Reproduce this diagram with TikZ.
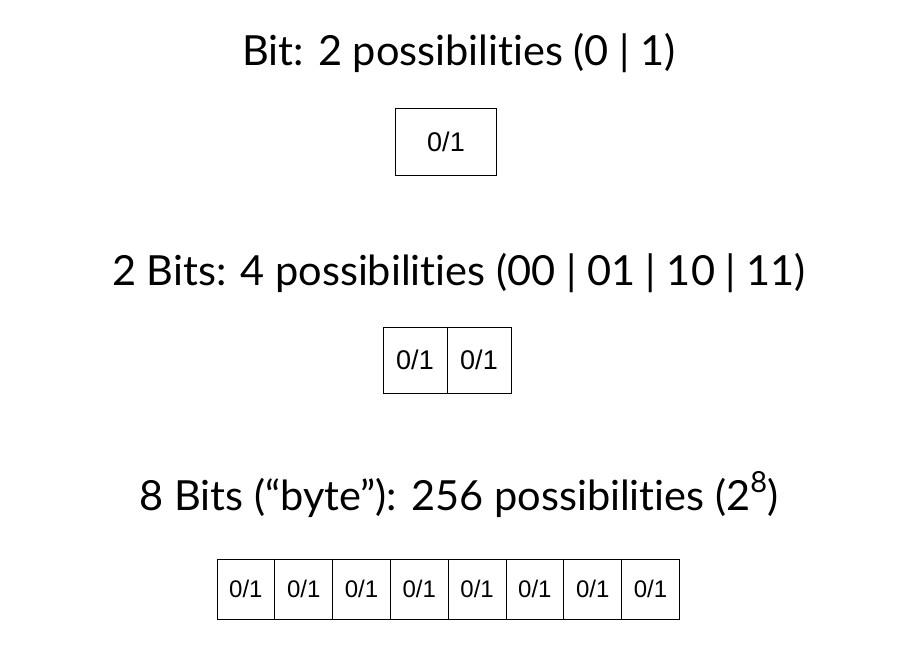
\documentclass[tikz,border=0pt]{standalone}
\usepackage{fontspec}
\setmainfont[Ligatures={NoCommon,NoRare,NoDiscretionary}]{Lato}
\newfontfamily\cellfont{Liberation Sans}
\begin{document}
\begin{tikzpicture}[x=1pt,y=-1pt,
  title/.style={anchor=base,inner sep=0pt,font=\fontsize{41.5}{48}\selectfont},
  cellA/.style={draw,line width=0.8pt,minimum width=101pt,minimum height=67pt,inner sep=0pt,font=\cellfont\fontsize{27}{30}\selectfont},
  cellB/.style={draw,line width=0.8pt,minimum width=64pt,minimum height=66pt,inner sep=0pt,font=\cellfont\fontsize{27}{30}\selectfont},
  cellC/.style={draw,line width=0.8pt,minimum width=57.8pt,minimum height=60pt,inner sep=0pt,font=\cellfont\fontsize{24}{28}\selectfont}]
\useasboundingbox (0,0) rectangle (906,666);
\node[title] (t1) at (459,66) {Bit: 2 possibilities (0 | 1)};
\node[cellA] (b1) at (446,141.5) {0/1};
\node[title] (t2) at (459,285) {2 Bits: 4 possibilities (00 | 01 | 10 | 11)};
\node[cellB] (b2a) at (415,360) {0/1};
\node[cellB] (b2b) at (479,360) {0/1};
\node[title] (t3) at (459,510) {8 Bits (“byte”): 256 possibilities (2\raisebox{0.42em}{\fontsize{29}{30}\selectfont 8})};
\foreach \i in {0,...,7} {
  \node[cellC] (c\i) at ({217+28.9+57.8*\i},589) {0/1};
}
\end{tikzpicture}
\end{document}
